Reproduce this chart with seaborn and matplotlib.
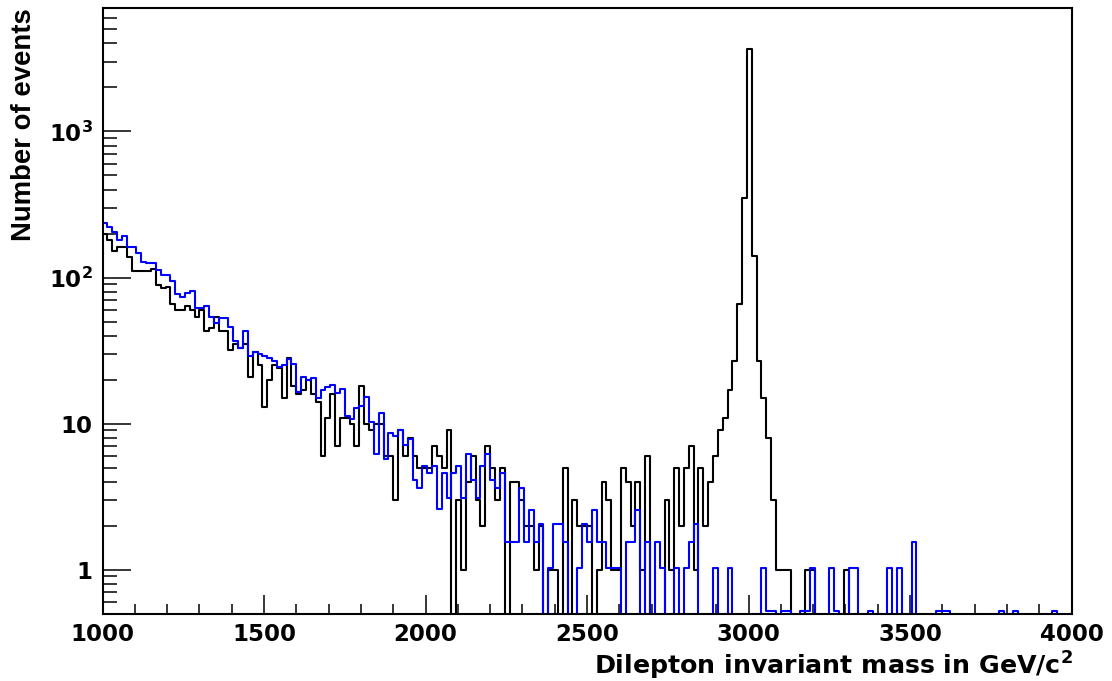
import numpy as np
import pandas as pd
import matplotlib
matplotlib.use("Agg")
import matplotlib.pyplot as plt
import matplotlib.ticker as mticker
import seaborn as sns

# 200 bins of 15 GeV between 1000 and 4000
mass_lo, mass_hi, n_bins = 1000, 4000, 200

# black histogram (signal + background), counts per bin
black_counts = [
    199, 181, 151, 163, 163, 138, 110, 110, 110, 111,
    115, 89, 85, 86, 66, 60, 60, 64, 60, 54,
    60, 43, 45, 54, 43, 43, 32, 35, 33, 35,
    21, 31, 25, 13, 20, 25, 24, 15, 28, 18,
    16, 17, 20, 16, 14, 6, 11, 16, 7, 11,
    11, 10, 7, 18, 10, 9, 10, 10, 6, 6,
    3, 9, 6, 8, 6, 5, 5, 5, 7, 6,
    5, 9, 0, 3, 1, 4, 6, 3, 2, 7,
    5, 3, 5, 0, 4, 4, 3, 2, 2, 1,
    2, 0, 1, 1, 0, 5, 0, 3, 2, 2,
    2, 0, 1, 4, 3, 1, 1, 5, 4, 2,
    4, 1, 6, 0, 0, 0, 3, 1, 5, 2,
    5, 7, 1, 5, 2, 4, 6, 9, 11, 17,
    27, 66, 350, 3650, 140, 27, 15, 8, 3, 1,
    1, 1, 0, 0, 0, 1, 1, 0, 0, 0,
    0, 0, 0, 1, 0, 0, 0, 0, 0, 0,
    0, 0, 0, 0, 0, 0, 0, 0, 0, 0,
    0, 0, 0, 0, 0, 0, 0, 0, 0, 0,
    0, 0, 0, 0, 0, 0, 0, 0, 0, 0,
    0, 0, 0, 0, 0, 0, 0, 0, 0, 0,
]

# blue histogram (background only, weighted)
blue_counts = [
    238, 221, 205, 181, 191, 163, 163, 147, 128, 126,
    126, 113, 104, 104, 94, 77, 74, 78, 81, 62,
    62, 64, 54, 49, 53, 53, 46, 37, 33, 43,
    29, 31, 30, 29, 28, 27, 24.3, 25.2, 27.6, 25.6,
    16.5, 21, 19.9, 20.4, 15, 17, 17.9, 18.4, 16.1, 17.3,
    11.3, 10.8, 12.8, 13.3, 15.3, 10.3, 6.2, 11.8, 5.7, 8.6,
    8.2, 9.1, 7.1, 7.9, 4.1, 3.6, 5.1, 4.6, 5.1, 2.6,
    4.6, 3.1, 4.6, 5.1, 3.1, 6.2, 4.1, 3.1, 5.1, 6.2,
    4.1, 3.6, 4.6, 1.55, 1.55, 1.55, 3.6, 1.55, 2.58, 1.55,
    2.06, 0, 1.03, 2.06, 2.06, 1.55, 0, 0, 1.03, 2.06,
    1.55, 2.58, 1.55, 1.55, 1.03, 1.03, 1.03, 0, 1.55, 1.55,
    2.58, 0, 1.55, 0, 1.55, 1.03, 0, 0, 1.03, 0,
    1.03, 1.55, 2.06, 0, 0, 0, 1.03, 0, 0, 1.03,
    0, 0, 0, 0, 0, 0, 1.03, 0.52, 0.52, 0,
    0.52, 0.52, 0, 0, 0.52, 0.52, 1.03, 0, 0, 0,
    1.03, 0.52, 0, 0, 1.03, 1.03, 0, 0, 0.52, 0,
    0, 0, 1.03, 0, 1.03, 0, 0, 1.55, 0, 0,
    0, 0, 0.52, 0.52, 0.52, 0, 0, 0, 0, 0,
    0, 0, 0, 0, 0, 0.52, 0, 0, 0.52, 0,
    0, 0, 0, 0, 0, 0, 0.52, 0, 0, 0,
]

y_ticks = [1, 10, 100, 1000]
y_tick_labels = ["1", "10", "$10^{2}$", "$10^{3}$"]
x_ticks = [1000, 1500, 2000, 2500, 3000, 3500, 4000]

edges = list(np.linspace(mass_lo, mass_hi, n_bins + 1))
centers = [0.5 * (a + b) for a, b in zip(edges[:-1], edges[1:])]
df = pd.DataFrame({"mass": centers, "black": black_counts, "blue": blue_counts})

sns.set_style("white")
plt.rcParams["font.family"] = ["DejaVu Sans"]
plt.rcParams["font.weight"] = "bold"
plt.rcParams["mathtext.fontset"] = "dejavusans"
plt.rcParams["mathtext.default"] = "bf"
plt.rcParams["text.color"] = "black"

fig = plt.figure(figsize=(11.12, 6.81), dpi=100)
ax = fig.add_axes([0.0922, 0.0988, 0.8714, 0.8895])

sns.histplot(data=df, x="mass", weights="black", bins=edges, element="step",
             fill=False, color="black", linewidth=1.5, ax=ax)
sns.histplot(data=df, x="mass", weights="blue", bins=edges, element="step",
             fill=False, color="#0000ff", linewidth=1.5, ax=ax)

ax.set_yscale("log")
ax.set_xlim(mass_lo, mass_hi)
ax.set_ylim(0.5, 7000)

ax.set_xticks(x_ticks)
ax.set_xticklabels([str(t) for t in x_ticks])
ax.xaxis.set_minor_locator(mticker.MultipleLocator(100))
ax.yaxis.set_major_locator(mticker.FixedLocator(y_ticks))
ax.yaxis.set_major_formatter(mticker.FixedFormatter(y_tick_labels))
ax.yaxis.set_minor_locator(mticker.LogLocator(base=10, subs=np.arange(2, 10)))
ax.yaxis.set_minor_formatter(mticker.NullFormatter())

ax.tick_params(which="both", direction="in", bottom=True, left=True,
               top=False, right=False, width=1.1, labelsize=16.5, pad=7,
               color="black", labelcolor="black")
ax.tick_params(axis="y", which="major", length=20)
ax.tick_params(axis="y", which="minor", length=10)
ax.tick_params(axis="x", which="major", length=13.5)
ax.tick_params(axis="x", which="minor", length=7)
for sp in ax.spines.values():
    sp.set_linewidth(1.5)
    sp.set_color("black")

ax.set_xlabel("")
ax.set_ylabel("")
fig.text(1073 / 1112, 1 - 675 / 681, "Dilepton invariant mass in GeV/c$^{2}$",
         ha="right", va="baseline", fontsize=18.2, fontweight="bold", color="black")
fig.text(24 / 1112, 1 - 8 / 681, "Number of events", rotation=90,
         ha="center", va="top", fontsize=19.8, fontweight="bold", color="black",
         family=["Liberation Sans"])

fig.savefig("out.png", dpi=100)
